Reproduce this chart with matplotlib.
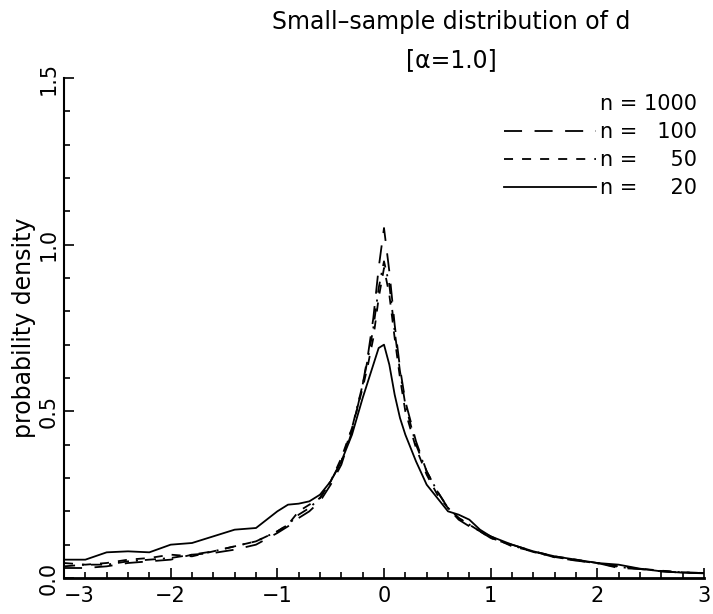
import matplotlib
matplotlib.use("Agg")
import matplotlib.pyplot as plt
from matplotlib.lines import Line2D
from matplotlib.ticker import MultipleLocator

plt.rcParams['font.family'] = ['DejaVu Sans']
plt.rcParams['lines.scale_dashes'] = False

title_line1 = "Small\u2013sample distribution of d"
title_line2 = "[\u03b1=1.0]"
ylabel = "probability density"

x = [-3.0, -2.8, -2.6, -2.4, -2.2, -2.0, -1.8, -1.6, -1.4, -1.2, -1.0, -0.9, -0.8,
     -0.7, -0.6, -0.5, -0.4, -0.3, -0.2, -0.15, -0.1, -0.05, 0.0, 0.05, 0.1, 0.15,
     0.2, 0.3, 0.4, 0.5, 0.6, 0.7, 0.8, 0.9, 1.0, 1.2, 1.4, 1.6, 1.8, 2.0, 2.2,
     2.4, 2.6, 2.8, 3.0]

n20 = [0.055, 0.055, 0.077, 0.080, 0.077, 0.100, 0.105, 0.125, 0.145, 0.150, 0.200,
       0.220, 0.223, 0.230, 0.250, 0.290, 0.350, 0.430, 0.540, 0.590, 0.640, 0.690,
       0.700, 0.640, 0.550, 0.480, 0.430, 0.350, 0.280, 0.240, 0.200, 0.190, 0.175,
       0.145, 0.125, 0.100, 0.080, 0.065, 0.055, 0.045, 0.040, 0.028, 0.020, 0.016,
       0.015]

n50 = [0.045, 0.040, 0.045, 0.055, 0.060, 0.070, 0.065, 0.080, 0.095, 0.110, 0.140,
       0.160, 0.200, 0.220, 0.240, 0.290, 0.360, 0.450, 0.570, 0.640, 0.720, 0.840,
       0.930, 0.850, 0.720, 0.600, 0.500, 0.390, 0.310, 0.250, 0.210, 0.180, 0.160,
       0.140, 0.125, 0.095, 0.080, 0.065, 0.055, 0.045, 0.035, 0.028, 0.022, 0.017,
       0.015]

n100 = [0.030, 0.030, 0.035, 0.045, 0.050, 0.055, 0.070, 0.075, 0.085, 0.100, 0.135,
        0.155, 0.180, 0.200, 0.230, 0.280, 0.340, 0.440, 0.580, 0.670, 0.780, 0.930,
        1.050, 0.920, 0.760, 0.630, 0.530, 0.410, 0.320, 0.260, 0.210, 0.175, 0.155,
        0.140, 0.120, 0.100, 0.080, 0.062, 0.052, 0.045, 0.030, 0.027, 0.020, 0.016,
        0.014]

n1000 = [0.035, 0.040, 0.040, 0.050, 0.055, 0.060, 0.070, 0.080, 0.095, 0.110, 0.140,
         0.160, 0.190, 0.210, 0.240, 0.290, 0.350, 0.450, 0.580, 0.660, 0.750, 0.870,
         0.950, 0.880, 0.740, 0.620, 0.520, 0.400, 0.320, 0.260, 0.210, 0.180, 0.160,
         0.140, 0.120, 0.098, 0.078, 0.063, 0.053, 0.044, 0.033, 0.027, 0.021, 0.017,
         0.015]

labels = ["n = 1000", "n = \u2007100", "n = \u2007\u200750", "n = \u2007\u200720"]
xtick_vals = [-3, -2, -1, 0, 1, 2, 3]
xtick_labels = ["\u22123", "\u22122", "\u22121", "0", "1", "2", "3"]
ytick_vals = [0.0, 0.5, 1.0, 1.5]
ytick_labels = ["0.0", "0.5", "1.0", "1.5"]

fig = plt.figure(figsize=(7.13, 6.14), dpi=100)
ax = fig.add_axes([64/713, 36/614, 640/713, 500/614])

lw = 1.3
ax.plot(x, n1000, color='black', lw=lw, linestyle=(0, (8, 5, 1.5, 5)))
ax.plot(x, n100, color='black', lw=lw, linestyle=(0, (13, 9)))
ax.plot(x, n50, color='black', lw=lw, linestyle=(0, (6.5, 6.5)))
ax.plot(x, n20, color='black', lw=lw, linestyle='-')

ax.set_xlim(-3, 3)
ax.set_ylim(0, 1.5)
ax.spines['top'].set_visible(False)
ax.spines['right'].set_visible(False)
ax.spines['bottom'].set_linewidth(2.0)
ax.spines['left'].set_linewidth(1.5)

ax.xaxis.set_minor_locator(MultipleLocator(0.2))
ax.yaxis.set_minor_locator(MultipleLocator(0.1))
ax.tick_params(which='both', direction='in', width=1.2)
ax.tick_params(which='major', length=7)
ax.tick_params(which='minor', length=4)
ax.tick_params(axis='x', labelsize=15, pad=6)
ax.tick_params(axis='y', labelsize=15, pad=4)
ax.set_xticks(xtick_vals)
ax.set_xticklabels(xtick_labels)
ax.get_xticklabels()[0].set_ha('left')
ax.set_yticks(ytick_vals)
ax.set_yticklabels(ytick_labels, rotation=90, va='center')
ax.set_ylabel(ylabel, fontsize=17, labelpad=2)

handles = [
    Line2D([], [], color='none'),
    Line2D([], [], color='black', lw=lw, linestyle=(0, (13, 9))),
    Line2D([], [], color='black', lw=lw, linestyle=(0, (6.5, 6.5))),
    Line2D([], [], color='black', lw=lw, linestyle='-'),
]
leg = ax.legend(handles, labels, loc='upper right', bbox_to_anchor=(0.989, 0.969),
                frameon=False, fontsize=15, handlelength=4.4, handletextpad=0.2,
                labelspacing=0.4, borderaxespad=0.0, borderpad=0.0)

fig.text(451/713, 1 - 22/614, title_line1, ha='center', va='center', fontsize=17)
fig.text(451/713, 1 - 60/614, title_line2, ha='center', va='center', fontsize=17)

fig.savefig("out.png", dpi=100)
